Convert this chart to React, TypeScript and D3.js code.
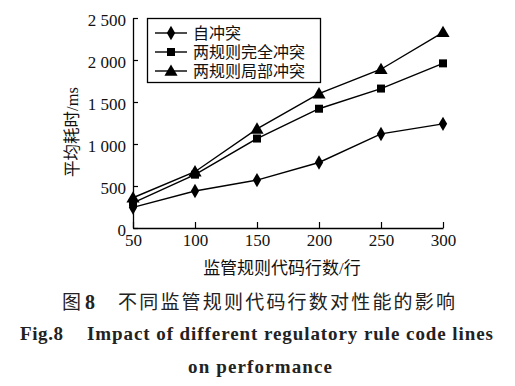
import React, { useEffect, useRef } from "react";
import * as d3 from "d3";

// x categories: rule code lines
const codeLines = [50, 100, 150, 200, 250, 300];
// series values (ms)
const selfConflict = [245, 440, 570, 780, 1120, 1240];
const fullConflict = [300, 635, 1065, 1420, 1660, 1960];
const partConflict = [360, 670, 1180, 1600, 1890, 2330];
const seriesNames = ["自冲突", "两规则完全冲突", "两规则局部冲突"];
const yTicks = [0, 500, 1000, 1500, 2000, 2500];

const SERIF = "'Liberation Serif', 'Times New Roman', 'Noto Sans CJK SC', serif";
const CJK = "'Noto Sans CJK SC', sans-serif";

export default function App() {
    const svgRef = useRef<SVGSVGElement>(null);
    const width = 515;
    const height = 386;
    const marginLeft = 133;
    const marginRight = 72;
    const marginTop = 18;
    const plotBottom = 228;

    useEffect(() => {
        const svg = d3.select(svgRef.current);
        svg.selectAll("*").remove();

        const x = d3.scaleLinear()
            .domain([50, 300])
            .range([marginLeft, width - marginRight]);

        const y = d3.scaleLinear()
            .domain([0, 2500])
            .range([plotBottom, marginTop]);

        const fmt = (d: number) => d >= 1000 ? d3.format(",")(d).replace(",", " ") : String(d);

        // x-axis with inward ticks
        svg.append("g")
            .attr("transform", `translate(0,${plotBottom})`)
            .call(d3.axisBottom(x).tickValues(codeLines).tickSizeInner(-6).tickSizeOuter(0).tickPadding(6).tickFormat((d) => String(d)))
            .call(g => g.select(".domain").attr("stroke-width", 1.3))
            .call(g => g.selectAll(".tick line").attr("stroke-width", 1.2))
            .call(g => g.selectAll("text").attr("font-family", SERIF).attr("font-size", 17).attr("fill", "#111"));

        // y-axis with inward ticks
        svg.append("g")
            .attr("transform", `translate(${marginLeft},0)`)
            .call(d3.axisLeft(y).tickValues(yTicks).tickSizeInner(-5).tickSizeOuter(0).tickPadding(7).tickFormat((d) => fmt(+d)))
            .call(g => g.select(".domain").attr("stroke-width", 1.3))
            .call(g => g.selectAll(".tick line").attr("stroke-width", 1.2))
            .call(g => g.selectAll("text").attr("font-family", SERIF).attr("font-size", 17).attr("fill", "#111").attr("dy", "0.45em"));

        const allSeries = [selfConflict, fullConflict, partConflict];
        const line = d3.line<number>()
            .x((d, i) => x(codeLines[i]))
            .y((d) => y(d));

        const diamond = d3.symbol().type(d3.symbolDiamond).size(60);
        const square = d3.symbol().type(d3.symbolSquare).size(64);
        const triangle = d3.symbol().type(d3.symbolTriangle).size(75);
        const symbols = [diamond, square, triangle];

        allSeries.forEach((s, k) => {
            svg.append("path")
                .datum(s)
                .attr("fill", "none")
                .attr("stroke", "#000")
                .attr("stroke-width", 1.4)
                .attr("d", line);

            svg.append("g")
                .selectAll("path")
                .data(s)
                .join("path")
                .attr("transform", (d, i) => `translate(${x(codeLines[i])},${y(d) + (k === 2 ? 1 : 0)})`)
                .attr("d", symbols[k]() as string)
                .attr("fill", "#000");
        });

        // legend
        const legend = svg.append("g");
        legend.append("rect")
            .attr("x", 147.5)
            .attr("y", 18.5)
            .attr("width", 173)
            .attr("height", 64)
            .attr("fill", "#fff")
            .attr("stroke", "#000")
            .attr("stroke-width", 1.3);

        seriesNames.forEach((name, k) => {
            const ly = 33 + k * 19;
            legend.append("line")
                .attr("x1", 155).attr("x2", 187)
                .attr("y1", ly).attr("y2", ly)
                .attr("stroke", "#000").attr("stroke-width", 1.4);
            legend.append("path")
                .attr("transform", `translate(171,${ly + (k === 2 ? 1 : 0)})`)
                .attr("d", symbols[k]() as string)
                .attr("fill", "#000");
            legend.append("text")
                .attr("x", 193)
                .attr("y", ly)
                .attr("dy", "0.36em")
                .attr("font-family", CJK)
                .attr("font-size", 16)
                .attr("fill", "#111")
                .text(name);
        });

        // axis titles
        svg.append("text")
            .attr("transform", `translate(78,132) rotate(-90)`)
            .attr("text-anchor", "middle")
            .attr("font-family", SERIF)
            .attr("font-size", 16.5)
            .attr("fill", "#111")
            .text("平均耗时/ms");

        svg.append("text")
            .attr("x", 282)
            .attr("y", 274)
            .attr("text-anchor", "middle")
            .attr("font-family", SERIF)
            .attr("font-size", 17)
            .attr("fill", "#111")
            .text("监管规则代码行数/行");

        // captions
        const cap = svg.append("g").attr("fill", "#222");
        cap.append("text")
            .attr("x", 62).attr("y", 309)
            .attr("font-family", CJK).attr("font-size", 19)
            .text("图");
        cap.append("text")
            .attr("x", 85).attr("y", 309)
            .attr("font-family", SERIF).attr("font-size", 20).attr("font-weight", "bold")
            .text("8");
        cap.append("text")
            .attr("x", 118).attr("y", 309)
            .attr("font-family", CJK).attr("font-size", 19)
            .attr("textLength", 337).attr("lengthAdjust", "spacing")
            .text("不同监管规则代码行数对性能的影响");

        cap.append("text")
            .attr("x", 20).attr("y", 340)
            .attr("font-family", SERIF).attr("font-size", 19).attr("font-weight", "bold")
            .attr("textLength", 43).attr("lengthAdjust", "spacing")
            .text("Fig.8");
        cap.append("text")
            .attr("x", 87).attr("y", 340)
            .attr("font-family", SERIF).attr("font-size", 19).attr("font-weight", "bold")
            .attr("textLength", 406).attr("lengthAdjust", "spacing")
            .text("Impact of different regulatory rule code lines");
        cap.append("text")
            .attr("x", 188).attr("y", 373)
            .attr("font-family", SERIF).attr("font-size", 19).attr("font-weight", "bold")
            .attr("textLength", 144).attr("lengthAdjust", "spacing")
            .text("on performance");
    }, []);

    return (
        <svg
            ref={svgRef}
            width={width}
            height={height}
            style={{ position: "absolute", left: 0, top: 0, background: "#fff" }}
        />
    );
}
